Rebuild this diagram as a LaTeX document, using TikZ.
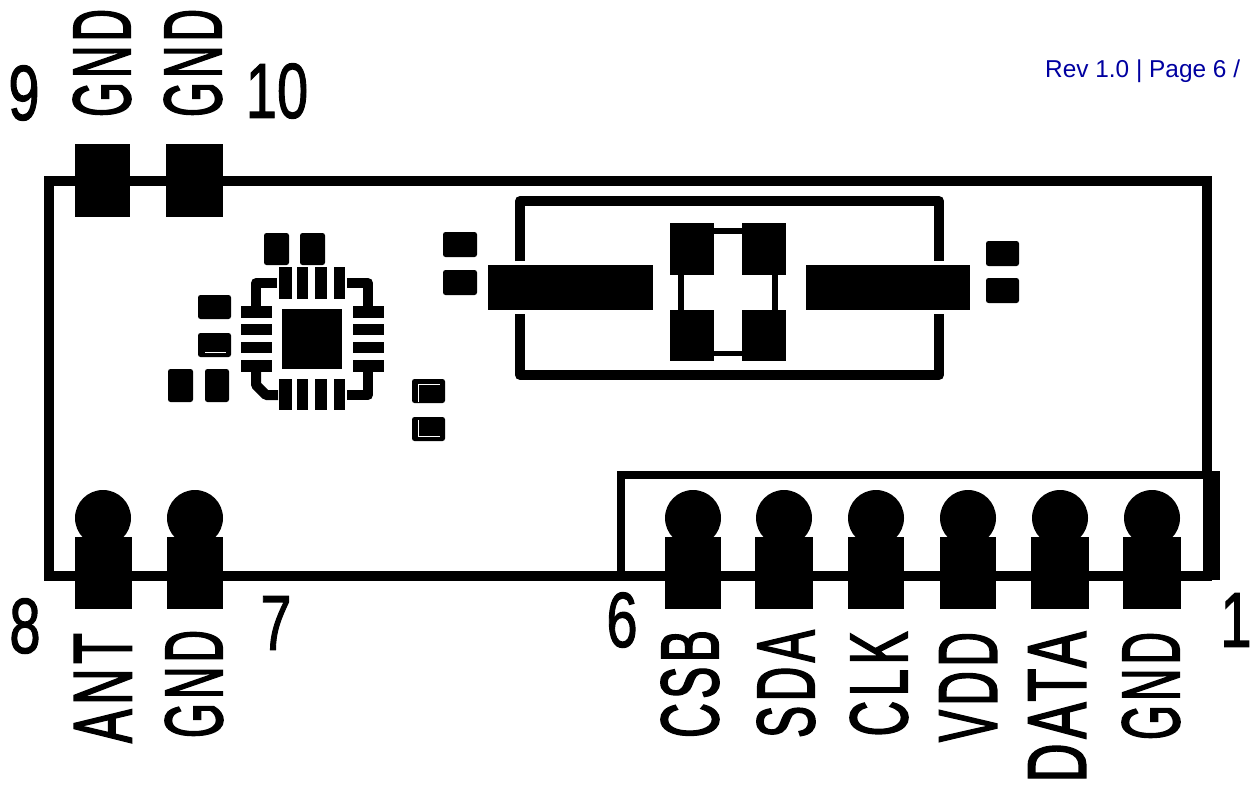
\documentclass[tikz,border=0pt]{standalone}
\usepackage{graphicx}
\usepackage{fontspec}
\usepackage{tikz}
\newfontfamily\pinfont{Liberation Sans}[FakeBold=2.4,LetterSpace=9]
\newfontfamily\numfont{Liberation Sans}[FakeBold=1.6]
\newfontfamily\revfont{Liberation Sans}
\definecolor{revblue}{RGB}{0,0,160}
\tikzset{
  pad/.style={fill=black},
  smallpad/.style={fill=black,rounded corners=2.5pt},
  trace/.style={draw=black,line width=10pt,line join=round},
  outline/.style={draw=black,line width=10pt,line join=miter},
  pinname/.style={rotate=90,inner sep=0pt,font=\pinfont\fontsize{80}{80}\selectfont},
  pinnum/.style={inner sep=0pt,font=\numfont\fontsize{78}{78}\selectfont}
}
\newcommand{\pinword}[2]{\resizebox{#1pt}{57pt}{#2}}
\newcommand{\pindigit}[1]{\scalebox{.72}[1]{#1}}
\begin{document}
\begin{tikzpicture}[x=1pt,y=-1pt]
  \useasboundingbox (0,0) rectangle (1252,784);
  % board
  \draw[outline] (1207,475) -- (1207,181) -- (49,181) -- (49,576) -- (1212,576);
  \draw[draw=black,line width=8pt] (621,576) -- (621,475) -- (1212,475);
  \fill[pad] (1203,471) rectangle (1220,580);
  % top pads
  \fill[pad] (75,144) rectangle (130,217);
  \fill[pad] (166,144) rectangle (223,217);
  % bottom pins
  \foreach \px/\pw in {103/57,195/56,693/56,784/58,876/56,968/56,1060/58,1152/58}{
    \fill[pad] (\px,518) circle[radius=28pt];
    \fill[pad] (\px-\pw/2,537) rectangle (\px+\pw/2,609);
  }
  % chip
  \fill[pad] (282,309) rectangle (342,369);
  \foreach \ax/\bx in {279/292,297/308,315/327,334/345}{
    \fill[pad] (\ax,267) rectangle (\bx,299);
    \fill[pad] (\ax,379) rectangle (\bx,410);
  }
  \foreach \ay/\by in {306/318,324/335,342/353,360/372}{
    \fill[pad] (241,\ay) rectangle (272,\by);
    \fill[pad] (353,\ay) rectangle (384,\by);
  }
  \draw[trace] (256,307) -- (256,283) -- (277,283);
  \draw[trace] (347,283) -- (368,283) -- (368,307);
  \draw[trace] (347,395) -- (368,395) -- (368,372);
  \draw[trace] (256,370) -- (256,385) -- (266,395) -- (278,395);
  % small parts round the chip
  \fill[smallpad] (264,233) rectangle (289,265);
  \fill[smallpad] (300,233) rectangle (325,265);
  \fill[smallpad] (198,295) rectangle (231,319);
  \fill[smallpad] (198,333) rectangle (231,357);
  \fill[smallpad] (168,369) rectangle (193,402);
  \fill[smallpad] (205,369) rectangle (229,402);
  \fill[smallpad] (412,379) rectangle (445,403);
  \fill[smallpad] (412,417) rectangle (445,441);
  \fill[smallpad] (443,232) rectangle (477,257);
  \fill[smallpad] (443,270) rectangle (477,295);
  \fill[smallpad] (986,241) rectangle (1019,266);
  \fill[smallpad] (986,278) rectangle (1019,303);
  \draw[white,line width=1pt] (205,352) -- (226,352);
  \draw[white,line width=1pt] (418,402) -- (418,384) -- (440,384);
  \draw[white,line width=1pt] (418,420) -- (418,436) -- (440,436);
  % crystal
  \draw[trace] (520,261) -- (520,201) -- (939,201) -- (939,261);
  \draw[trace] (520,314) -- (520,375) -- (939,375) -- (939,314);
  \fill[pad] (488,265) rectangle (653,310);
  \fill[pad] (806,265) rectangle (970,310);
  \foreach \ax/\bx in {670/714,742/786}{
    \fill[pad] (\ax,223) rectangle (\bx,275);
    \fill[pad] (\ax,310) rectangle (\bx,361);
  }
  \fill[pad] (714,228) rectangle (742,234);
  \fill[pad] (714,351) rectangle (742,356);
  \fill[pad] (678,275) rectangle (684,310);
  \fill[pad] (772,275) rectangle (778,310);
  % pin names
  \node[pinname] (gndA) at (102,63) {\pinword{108}{GND}};
  \node[pinname] (gndB) at (193,63) {\pinword{108}{GND}};
  \node[pinname] (ant) at (103,688) {\pinword{110}{ANT}};
  \node[pinname] (gndC) at (194,684) {\pinword{108}{GND}};
  \node[pinname] (csb) at (690,684) {\pinword{108}{CSB}};
  \node[pinname] (sda) at (786,684) {\pinword{108}{SDA}};
  \node[pinname] (clk) at (879,684) {\pinword{105}{CLK}};
  \node[pinname] (vdd) at (968,687) {\pinword{110}{VDD}};
  \node[pinname] (data) at (1057,707) {\pinword{151}{DATA}};
  \node[pinname] (gndD) at (1151,686) {\pinword{108}{GND}};
  % pin numbers
  \node[pinnum] (nine) at (24,93) {\pindigit{9}};
  \node[pinnum] (ten) at (277,91) {\pindigit{10}};
  \node[pinnum] (eight) at (25,626) {\pindigit{8}};
  \node[pinnum] (seven) at (276,623) {\pindigit{7}};
  \node[pinnum] (six) at (622,620) {\pindigit{6}};
  \node[pinnum] (one) at (1236,620) {\pindigit{1}};
  \node[anchor=west,inner sep=0pt,text=revblue,font=\revfont\fontsize{24.4}{24.4}\selectfont] (rev) at (1045,71) {Rev 1.0 | Page 6 /};
\end{tikzpicture}
\end{document}
